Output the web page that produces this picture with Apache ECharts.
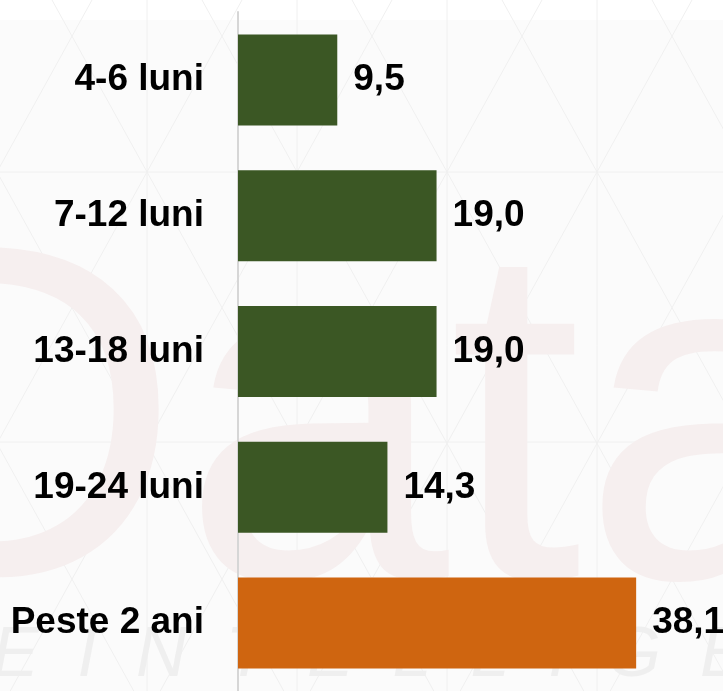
<!DOCTYPE html>
<html>
<head>
<meta charset="utf-8">
<script src="https://cdn.jsdelivr.net/npm/echarts@6/dist/echarts.min.js"></script>
<style>
  html, body { margin: 0; padding: 0; background: #fbfbfb; }
  #chart { width: 723px; height: 691px; }
</style>
</head>
<body>
<div id="chart"></div>
<script>
var categories = ['4-6 luni', '7-12 luni', '13-18 luni', '19-24 luni', 'Peste 2 ani'];
var values = [9.5, 19.0, 19.0, 14.3, 38.1];
var highlighted = 'Peste 2 ani';

var GREEN = '#3b5724';
var ORANGE = '#cf6510';
var LATTICE = '#f0f0f0';

// faint triangle lattice of the background template
function lattice() {
    var els = [];
    var W = 723, H = 691, k = 1.81;
    [172, 442].forEach(function (y) {
        els.push({ type: 'line', z: -20, silent: true,
            shape: { x1: 0, y1: y, x2: W, y2: y },
            style: { stroke: LATTICE, lineWidth: 1 } });
    });
    for (var x = -3; x < W; x += 150) {
        els.push({ type: 'line', z: -20, silent: true,
            shape: { x1: x, y1: 0, x2: x, y2: H },
            style: { stroke: LATTICE, lineWidth: 1 } });
    }
    for (var a = 52 - 450; a < W + 450; a += 150) {
        els.push({ type: 'line', z: -20, silent: true,
            shape: { x1: a, y1: 0, x2: a + H / k, y2: H },
            style: { stroke: LATTICE, lineWidth: 1 } });
        els.push({ type: 'line', z: -20, silent: true,
            shape: { x1: a + 190, y1: 0, x2: a + 190 - H / k, y2: H },
            style: { stroke: LATTICE, lineWidth: 1 } });
    }
    return els;
}

var chart = echarts.init(document.getElementById('chart'));

var option = {
    backgroundColor: '#fbfbfb',
    animation: false,
    graphic: [{
        type: 'rect', z: -30, silent: true,
        shape: { x: 0, y: 0, width: 723, height: 20 },
        style: { fill: '#ffffff' }
    }].concat(lattice()).concat([{
        // watermark
        type: 'text',
        left: -165,
        top: 205,
        z: -10,
        silent: true,
        style: {
            text: 'Data',
            fontSize: 480,
            fontFamily: 'Liberation Sans',
            fill: '#f6efef'
        }
    }, {
        type: 'text',
        left: -8,
        top: 622,
        z: -10,
        silent: true,
        style: {
            text: 'E  I  N  T  E  L  L  I  G  E  N',
            fontSize: 70,
            fontStyle: 'italic',
            fontFamily: 'Liberation Sans',
            fill: '#efefef'
        }
    }]),
    grid: {
        left: 238,
        top: 12,
        width: 418,
        height: 680
    },
    xAxis: {
        type: 'value',
        min: 0,
        max: 40,
        show: false
    },
    yAxis: {
        type: 'category',
        data: categories,
        inverse: true,
        axisLine: {
            lineStyle: { color: '#d6d6d6', width: 2 }
        },
        axisTick: { show: false },
        axisLabel: {
            margin: 34,
            color: '#000',
            fontSize: 37,
            fontWeight: 'bold',
            fontFamily: 'Liberation Sans'
        }
    },
    series: [{
        type: 'bar',
        data: values,
        barWidth: 91,
        itemStyle: {
            color: function (p) {
                return p.name === highlighted ? ORANGE : GREEN;
            }
        },
        label: {
            show: true,
            position: 'right',
            distance: 16,
            color: '#000',
            fontSize: 37,
            fontWeight: 'bold',
            fontFamily: 'Liberation Sans',
            formatter: function (p) {
                return p.value.toFixed(1).replace('.', ',');
            }
        }
    }]
};

chart.setOption(option);
</script>
</body>
</html>
